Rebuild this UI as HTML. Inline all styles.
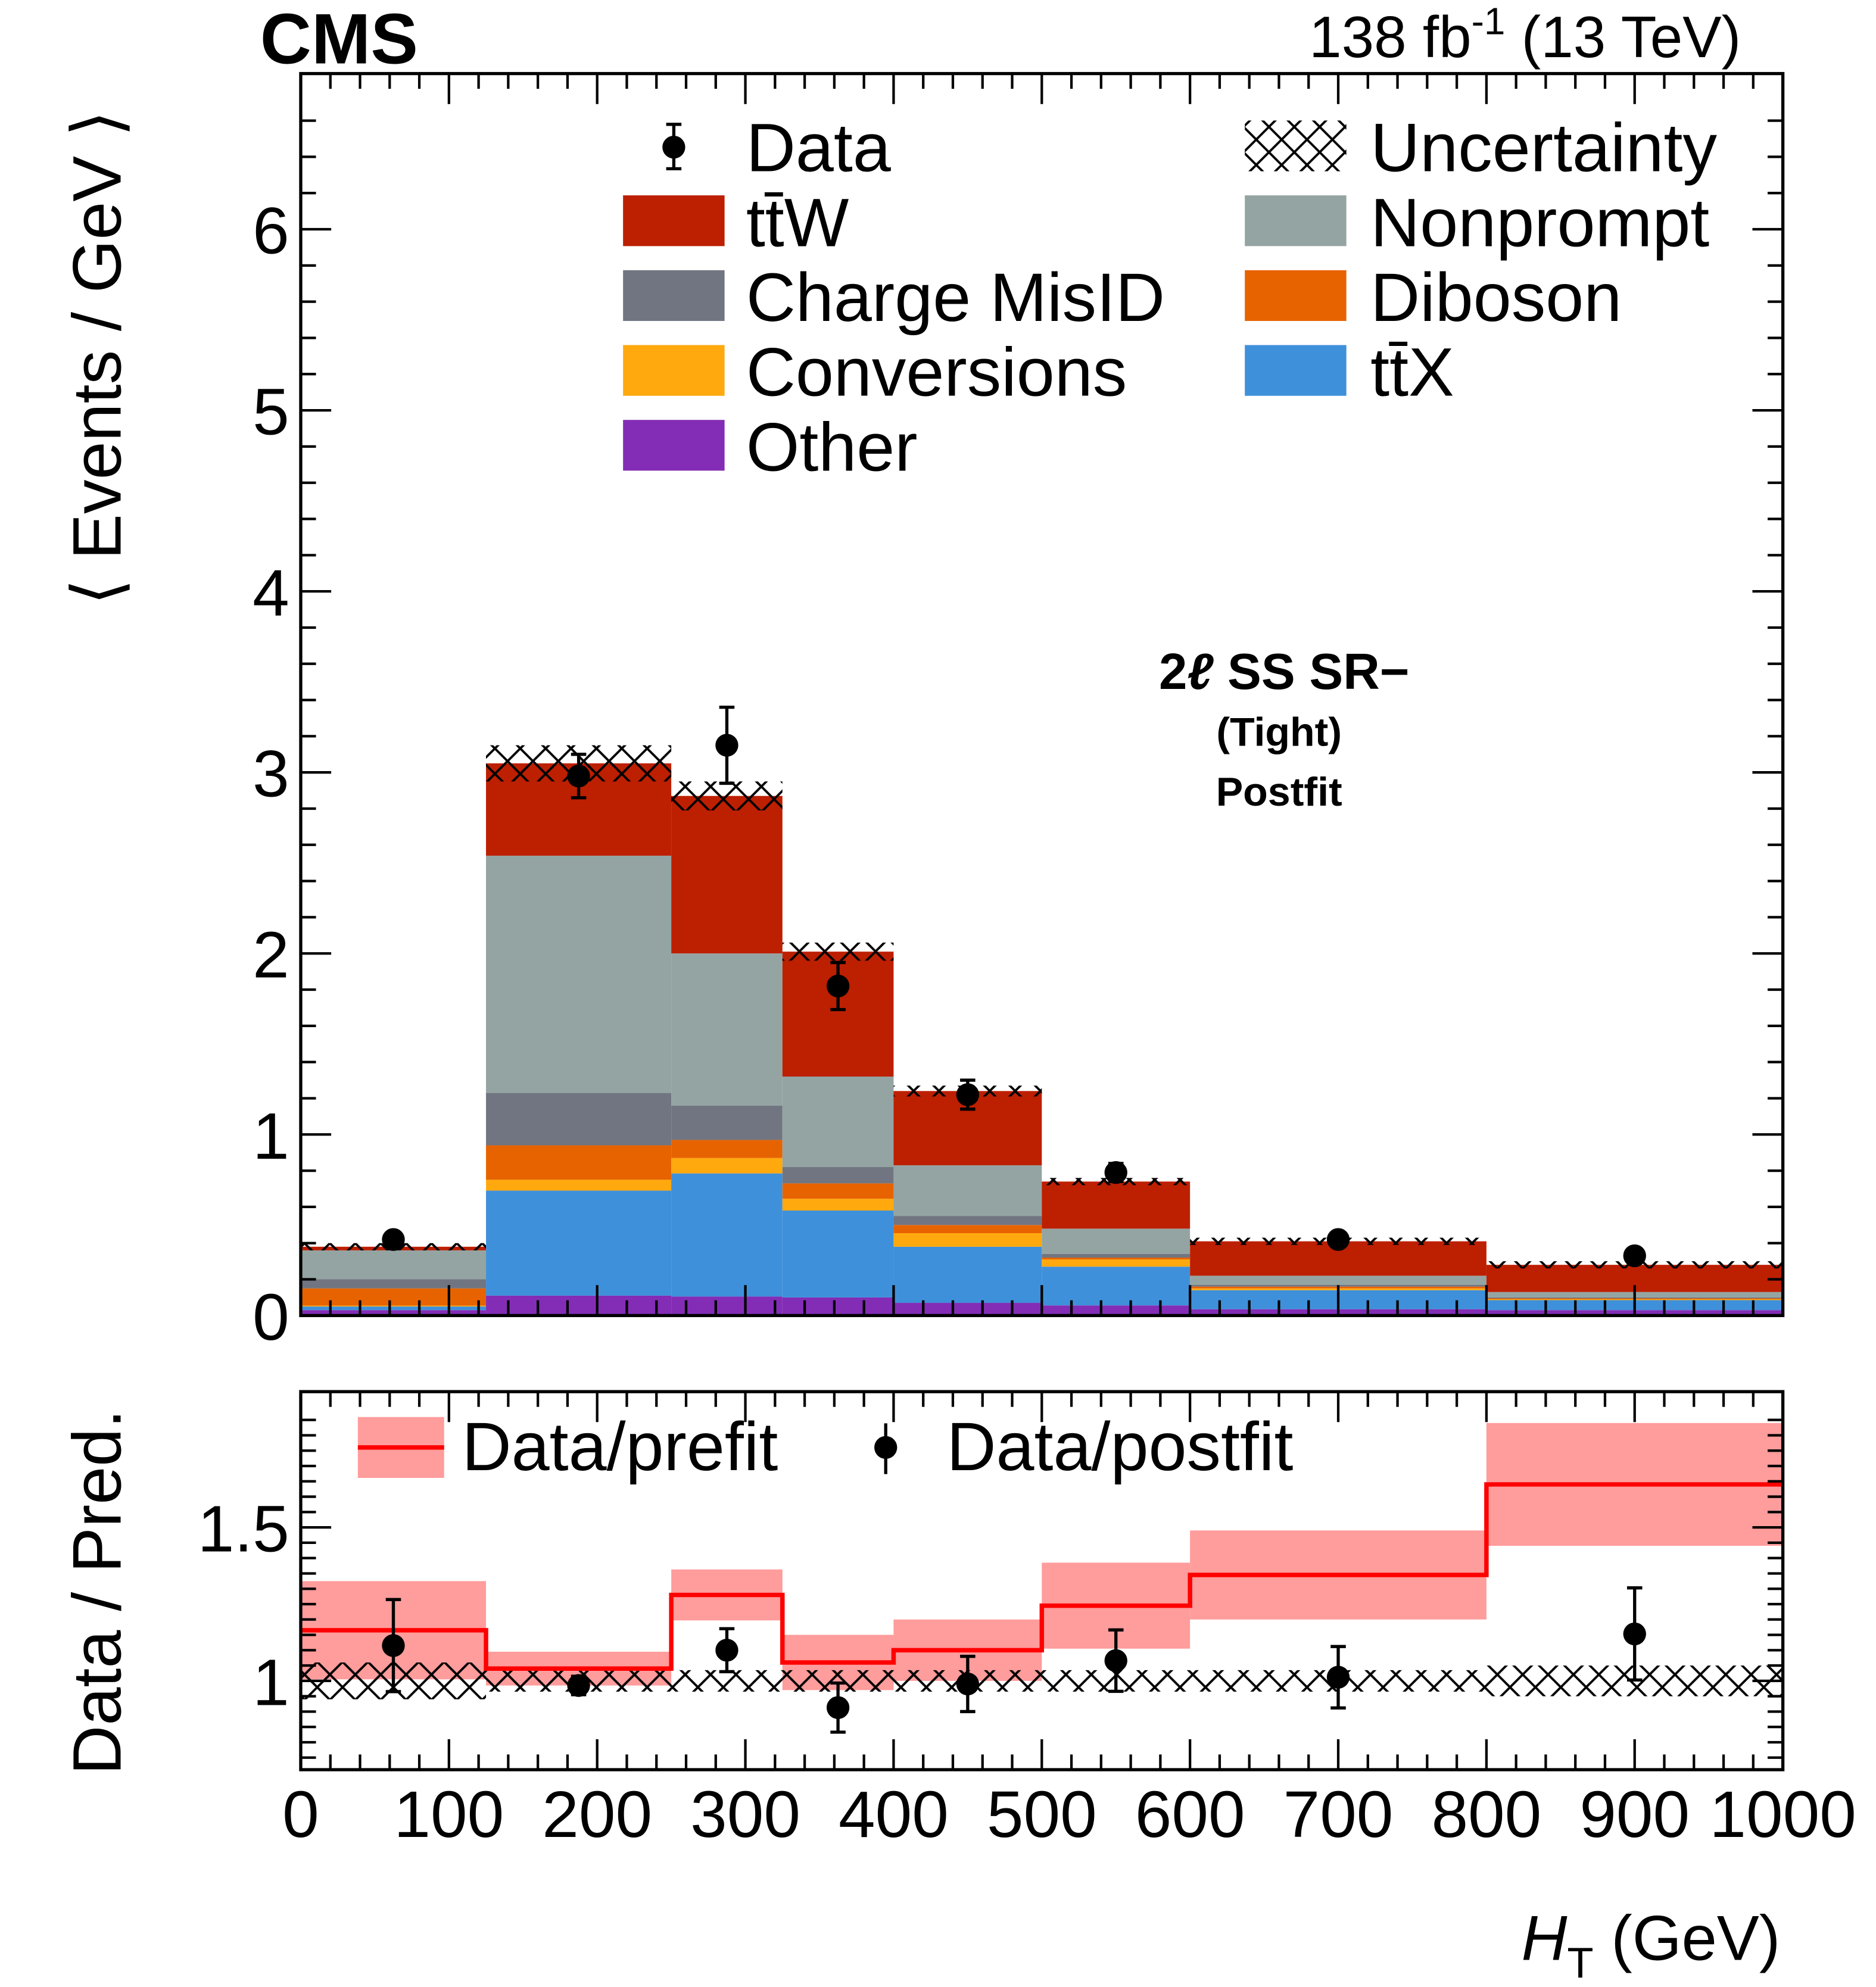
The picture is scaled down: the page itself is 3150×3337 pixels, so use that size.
<!DOCTYPE html>
<html><head><meta charset="utf-8"><style>
html,body{margin:0;padding:0;background:#fff;}
svg{display:block;font-family:"Liberation Sans",Arial,sans-serif;}
</style></head><body>
<svg id="chart" width="3150" height="3337" viewBox="0 0 1478.4 1566.3" preserveAspectRatio="none" xmlns="http://www.w3.org/2000/svg">
<defs>
<pattern id="hatch" patternUnits="userSpaceOnUse" width="20" height="20">
<path d="M0,0 L20,20 M20,0 L0,20" stroke="#000" stroke-width="1.8" fill="none"/>
</pattern>
</defs>
<g id="main"></g>
<g id="ratio"></g>
<g id="txt">
<text x="205" y="50" font-size="56" font-weight="bold">CMS</text>
<text x="1372" y="45" font-size="46" text-anchor="end">138 fb<tspan dy="-18" font-size="30">-1</tspan><tspan dy="18"> (13 TeV)</tspan></text>
<text transform="translate(95,282) rotate(-90)" font-size="54" text-anchor="middle">⟨ Events / GeV ⟩</text>
<text transform="translate(95,1255) rotate(-90)" font-size="54" text-anchor="middle">Data / Pred.</text>
<text x="1403" y="1545" font-size="50" text-anchor="end"><tspan font-style="italic">H</tspan><tspan font-size="34" dy="14">T</tspan><tspan dy="-14"> (GeV)</tspan></text>
<text x="1012" y="543" font-size="40" font-weight="bold" text-anchor="middle">2<tspan font-style="italic">ℓ</tspan> SS SR−</text>
<text x="1008" y="588" font-size="32" font-weight="bold" text-anchor="middle">(Tight)</text>
<text x="1008" y="635" font-size="32" font-weight="bold" text-anchor="middle">Postfit</text>
</g>
<g id="legend"></g>
</svg>
<script>
const edges=[0,125,250,325,400,500,600,800,1000];
const procNames=["Other","ttX","Conversions","Diboson","Charge MisID","Nonprompt","ttW"];
const procColors=["#832db6","#3f90da","#ffa90e","#e76300","#717581","#94a4a2","#bd1f01"];
const other=[0.03,0.11,0.105,0.10,0.07,0.056,0.035,0.03];
const ttX=[0.02,0.58,0.68,0.48,0.31,0.214,0.105,0.055];
const conversions=[0.005,0.06,0.085,0.065,0.075,0.04,0.01,0.005];
const diboson=[0.095,0.19,0.10,0.085,0.045,0.01,0.01,0.005];
const chargeMisID=[0.05,0.29,0.19,0.09,0.05,0.02,0.01,0.005];
const nonprompt=[0.16,1.31,0.84,0.50,0.28,0.14,0.05,0.03];
const ttW=[0.02,0.51,0.87,0.69,0.41,0.26,0.19,0.15];
const uncert=[0.02,0.1,0.08,0.05,0.03,0.02,0.02,0.02];
const dataX=[62.5,187.5,287.5,362.5,450,550,700,900];
const dataY=[0.42,2.98,3.15,1.82,1.22,0.79,0.42,0.33];
const dataErr=[0.03,0.12,0.21,0.13,0.08,0.05,0.03,0.025];
const prefitRatio=[1.165,1.04,1.28,1.06,1.10,1.245,1.345,1.64];
const prefitErr=[0.16,0.055,0.083,0.09,0.1,0.14,0.145,0.2];
const postRatio=[1.115,0.985,1.10,0.913,0.99,1.066,1.012,1.153];
const postErr=[0.15,0.03,0.07,0.08,0.09,0.1,0.1,0.15];
const ratioUnc=[0.06,0.035,0.035,0.035,0.035,0.035,0.035,0.05];
const yTicks=[0,1,2,3,4,5,6];
const rTicks=[1,1.5];
const xTicks=[0,100,200,300,400,500,600,700,800,900,1000];

const NS="http://www.w3.org/2000/svg";
const X0=237,X1=1405,Y0=1037,YT=58,R0=1395,RT=1097;
const xs=v=>X0+(X1-X0)*v/1000;
const ys=v=>Y0-(Y0-YT)*v/6.86;
const rs=v=>1325-(v-1)*242;
function mk(p,t,a){const e=document.createElementNS(NS,t);for(const k in a)e.setAttribute(k,a[k]);p.appendChild(e);return e;}
const M=document.getElementById('main'),R=document.getElementById('ratio'),L=document.getElementById('legend');
const procs=[other,ttX,conversions,diboson,chargeMisID,nonprompt,ttW];
for(let b=0;b<8;b++){
  let c=0;
  for(let p=0;p<procs.length;p++){
    const lo=c;c+=procs[p][b];
    const r=mk(M,'rect',{x:xs(edges[b]),y:ys(c),width:xs(edges[b+1])-xs(edges[b]),height:ys(lo)-ys(c),fill:procColors[p]});
    
    
  }
  const h=mk(M,'rect',{x:xs(edges[b]),y:ys(c+uncert[b]),width:xs(edges[b+1])-xs(edges[b]),height:ys(c-uncert[b])-ys(c+uncert[b]),fill:'url(#hatch)'});
  
  
}
for(let i=0;i<dataX.length;i++){
  const g=mk(M,'g',{});
  
  
  const x=xs(dataX[i]);
  mk(g,'line',{x1:x,x2:x,y1:ys(dataY[i]+dataErr[i]),y2:ys(dataY[i]-dataErr[i]),stroke:'#000','stroke-width':2.5});
  mk(g,'line',{x1:x-6,x2:x+6,y1:ys(dataY[i]+dataErr[i]),y2:ys(dataY[i]+dataErr[i]),stroke:'#000','stroke-width':2.5});
  mk(g,'line',{x1:x-6,x2:x+6,y1:ys(dataY[i]-dataErr[i]),y2:ys(dataY[i]-dataErr[i]),stroke:'#000','stroke-width':2.5});
  mk(g,'circle',{cx:x,cy:ys(dataY[i]),r:9,fill:'#000'});
}
function frame(P,top,bot,name){
  const f=mk(P,'rect',{x:X0,y:top,width:X1-X0,height:bot-top,fill:'none',stroke:'#000','stroke-width':2.5});
  
  
  for(let v=0;v<=1000;v+=20){
    const len=(v%100===0)?24:12;
    mk(P,'line',{x1:xs(v),x2:xs(v),y1:bot,y2:bot-len,stroke:'#000','stroke-width':2});
    mk(P,'line',{x1:xs(v),x2:xs(v),y1:top,y2:top+len,stroke:'#000','stroke-width':2});
  }
}
frame(M,YT,Y0,'main-frame');
for(let v=0;v<=6.8;v+=0.2){
  const maj=Math.abs(v-Math.round(v))<1e-6,len=maj?24:12,y=ys(v);
  mk(M,'line',{x1:X0,x2:X0+len,y1:y,y2:y,stroke:'#000','stroke-width':2});
  mk(M,'line',{x1:X1,x2:X1-len,y1:y,y2:y,stroke:'#000','stroke-width':2});
}
yTicks.forEach(v=>{const t=mk(M,'text',{x:228,y:ys(v)+19,'font-size':52,'text-anchor':'end'});t.textContent=v;

});
for(let b=0;b<8;b++){
  const x=xs(edges[b]),w=xs(edges[b+1])-xs(edges[b]);
  const r=mk(R,'rect',{x:x,y:rs(prefitRatio[b]+prefitErr[b]),width:w,height:rs(prefitRatio[b]-prefitErr[b])-rs(prefitRatio[b]+prefitErr[b]),fill:'#ff9c9c'});
  
  
}
for(let b=0;b<8;b++){
  const x=xs(edges[b]),w=xs(edges[b+1])-xs(edges[b]);
  const h=mk(R,'rect',{x:x,y:rs(1+ratioUnc[b]),width:w,height:rs(1-ratioUnc[b])-rs(1+ratioUnc[b]),fill:'url(#hatch)'});
  
  
}
let d='';
for(let b=0;b<8;b++){d+=(b===0?'M':'L')+xs(edges[b])+','+rs(prefitRatio[b])+' L'+xs(edges[b+1])+','+rs(prefitRatio[b]);}
const pl=mk(R,'path',{d:d,fill:'none',stroke:'#ff0000','stroke-width':3.5});


for(let i=0;i<dataX.length;i++){
  const g=mk(R,'g',{});
  
  
  const x=xs(dataX[i]);
  mk(g,'line',{x1:x,x2:x,y1:rs(postRatio[i]+postErr[i]),y2:rs(postRatio[i]-postErr[i]),stroke:'#000','stroke-width':2.5});
  mk(g,'line',{x1:x-6,x2:x+6,y1:rs(postRatio[i]+postErr[i]),y2:rs(postRatio[i]+postErr[i]),stroke:'#000','stroke-width':2.5});
  mk(g,'line',{x1:x-6,x2:x+6,y1:rs(postRatio[i]-postErr[i]),y2:rs(postRatio[i]-postErr[i]),stroke:'#000','stroke-width':2.5});
  mk(g,'circle',{cx:x,cy:rs(postRatio[i]),r:9,fill:'#000'});
}
frame(R,RT,R0,'ratio-frame');
for(let v=0.75;v<=1.9;v+=0.05){
  const maj=Math.abs(v*2-Math.round(v*2))<1e-6,len=maj?24:12,y=rs(v);
  mk(R,'line',{x1:X0,x2:X0+len,y1:y,y2:y,stroke:'#000','stroke-width':2});
  mk(R,'line',{x1:X1,x2:X1-len,y1:y,y2:y,stroke:'#000','stroke-width':2});
}
rTicks.forEach(v=>{const t=mk(R,'text',{x:228,y:rs(v)+19,'font-size':52,'text-anchor':'end'});t.textContent=v;

});
xTicks.forEach(v=>{const t=mk(R,'text',{x:xs(v),y:1448,'font-size':52,'text-anchor':'middle'});t.textContent=v;

});
function legText(x,y,s){const t=mk(L,'text',{x:x,y:y,'font-size':54});t.textContent=s;

return t;}
const legLeft=[["Data",null],["tt̄W","#bd1f01"],["Charge MisID","#717581"],["Conversions","#ffa90e"],["Other","#832db6"]];
const legRight=[["Uncertainty","hatch"],["Nonprompt","#94a4a2"],["Diboson","#e76300"],["tt̄X","#3f90da"]];
legLeft.forEach((e,i)=>{
  const cy=115+i*59;
  if(e[1]){const r=mk(L,'rect',{x:491,y:cy-20,width:80,height:40,fill:e[1]});
    
    }
  else{mk(L,'line',{x1:531,x2:531,y1:98,y2:133,stroke:'#000','stroke-width':2.5});
    mk(L,'line',{x1:525,x2:537,y1:98,y2:98,stroke:'#000','stroke-width':2.5});
    mk(L,'line',{x1:525,x2:537,y1:133,y2:133,stroke:'#000','stroke-width':2.5});
    mk(L,'circle',{cx:531,cy:116,r:9,fill:'#000'});}
  legText(588,cy+20,e[0]);
});
legRight.forEach((e,i)=>{
  const cy=115+i*59;
  const r=mk(L,'rect',{x:981,y:cy-20,width:80,height:40,fill:e[1]==='hatch'?'url(#hatch)':e[1]});
  
  
  legText(1080,cy+20,e[0]);
});
const pr=mk(L,'rect',{x:282,y:1117,width:68,height:48,fill:'#ff9c9c'});


mk(L,'line',{x1:282,x2:350,y1:1141,y2:1141,stroke:'#ff0000','stroke-width':3.5});
legText(364,1159,"Data/prefit");
mk(L,'line',{x1:698,x2:698,y1:1122,y2:1162,stroke:'#000','stroke-width':2.5});
mk(L,'circle',{cx:698,cy:1141,r:9,fill:'#000'});
legText(746,1159,"Data/postfit");
</script>
</body></html>
